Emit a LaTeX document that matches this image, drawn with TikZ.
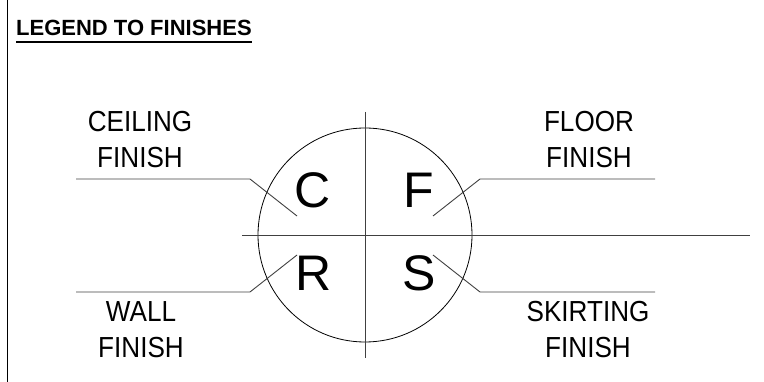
\documentclass[tikz,border=0pt]{standalone}
\usepackage{fontspec}
\setmainfont{Liberation Sans}
\newfontfamily\lblfont[FakeStretch=0.9]{Liberation Sans}
\begin{document}
\begin{tikzpicture}[x=1pt,y=-1pt,
  lbl/.style={font=\lblfont\fontsize{29}{36}\selectfont,align=center,inner sep=0pt,anchor=base},
  letter/.style={font=\fontsize{50}{50}\selectfont,inner sep=0pt,anchor=center},
  leader/.style={draw=black!75,line width=0.9pt},
  axis/.style={draw=black!75,line width=0.9pt}]
\useasboundingbox (0,0) rectangle (764,382);
\draw[line width=1.6pt] (7.5,0) -- (7.5,382);
\node[font=\bfseries\fontsize{22}{24}\selectfont,inner sep=0pt,anchor=base west] (title) at (16,36) {LEGEND TO FINISHES};
\draw[line width=2pt] ([yshift=-6pt]title.base west) -- ([yshift=-6pt]title.base east);
% circle and axes
\node[circle,draw,line width=0.8pt,minimum size=214pt,inner sep=0pt] (ring) at (365,235) {};
\coordinate (vtop) at (365,112); \coordinate (vbot) at (365,358);
\coordinate (hl) at (242,235); \coordinate (hr) at (750,235);
\draw[axis] (vtop) -- (vbot);
\draw[axis] (hl) -- (hr);
% letters
\node[letter] (C) at (313,190) {C};
\node[letter] (F) at (419,190) {F};
\node[letter] (R) at (314,273) {R};
\node[letter] (S) at (419,273) {S};
% labels (base anchor = baseline of last line)
\node[lbl] (ceil) at (140,168) {CEILING\\FINISH};
\node[lbl] (floor) at (589,168) {FLOOR\\FINISH};
\node[lbl] (wall) at (141,358) {WALL\\FINISH};
\node[lbl] (skirt) at (588,358) {SKIRTING\\FINISH};
% leader points
\coordinate (cA) at (76,179); \coordinate (cB) at (250,179); \coordinate (cT) at (297,216);
\coordinate (fA) at (655,179); \coordinate (fB) at (480,179); \coordinate (fT) at (433,216);
\coordinate (rA) at (76,292); \coordinate (rB) at (250,292); \coordinate (rT) at (297,255);
\coordinate (sA) at (655,292); \coordinate (sB) at (480,292); \coordinate (sT) at (433,255);
\draw[leader] (cA) -- (cB) -- (cT);
\draw[leader] (fA) -- (fB) -- (fT);
\draw[leader] (rA) -- (rB) -- (rT);
\draw[leader] (sA) -- (sB) -- (sT);
\end{tikzpicture}
\end{document}
